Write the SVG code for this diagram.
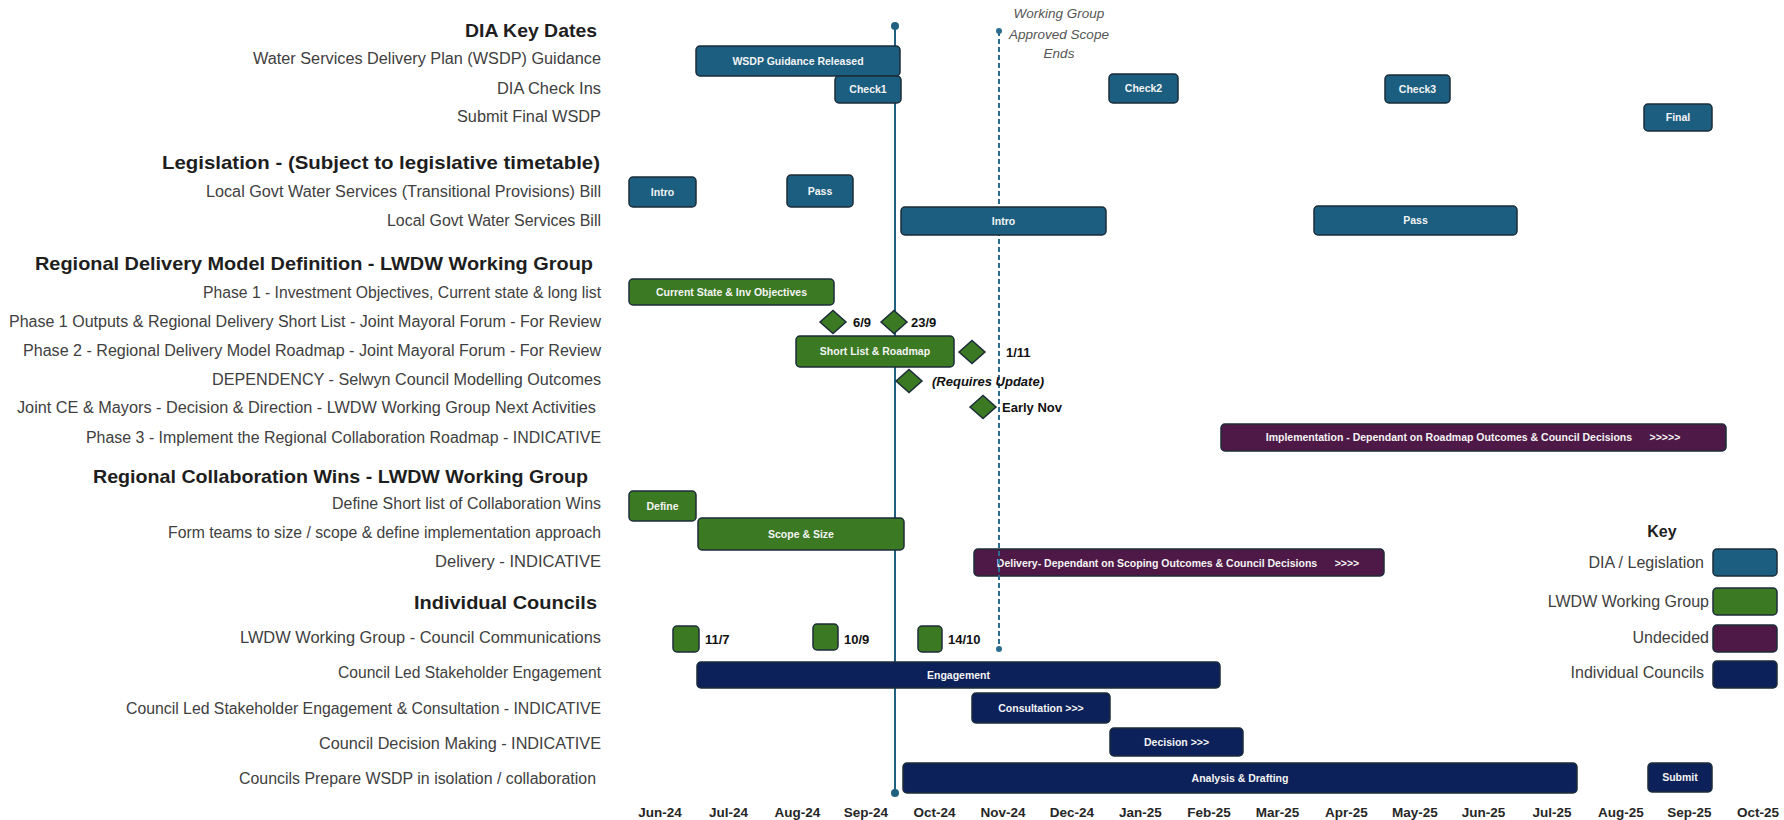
<svg xmlns="http://www.w3.org/2000/svg" width="1784" height="820" viewBox="0 0 1784 820">
<style>
text{font-family:"Liberation Sans",Arial,sans-serif}
.hdr{font-size:19px;font-weight:bold;fill:#1e1e1e;text-anchor:end}
.lbl{font-size:16px;fill:#404040;text-anchor:end}
.mon{font-size:13.5px;font-weight:bold;fill:#262626;text-anchor:middle}
.bt{font-size:10.5px;font-weight:bold;fill:#f4f4f4;text-anchor:middle}
.pre{white-space:pre}
.ms{font-size:13px;font-weight:bold;fill:#111111}
.note{font-size:13.5px;font-style:italic;fill:#555555;text-anchor:middle}
.dia{fill:#1b5e80;stroke:#1c2c38;stroke-width:1.5}
.grn{fill:#3b7a23;stroke:#1c2c38;stroke-width:1.5}
.pur{fill:#4f1947;stroke:#1c2c38;stroke-width:1.5}
.nav{fill:#0c2159;stroke:#1c2c38;stroke-width:1.5}
.key{font-size:16px;fill:#404040;text-anchor:end}
</style>

<g id="row-labels">
<text class="hdr" x="597" y="37" textLength="132" lengthAdjust="spacingAndGlyphs">DIA Key Dates</text>
<text class="lbl" x="601" y="64" textLength="348" lengthAdjust="spacingAndGlyphs">Water Services Delivery Plan (WSDP) Guidance</text>
<text class="lbl" x="601" y="94" textLength="104" lengthAdjust="spacingAndGlyphs">DIA Check Ins</text>
<text class="lbl" x="601" y="122" textLength="144" lengthAdjust="spacingAndGlyphs">Submit Final WSDP</text>
<text class="hdr" x="600" y="169" textLength="438" lengthAdjust="spacingAndGlyphs">Legislation - (Subject to legislative timetable)</text>
<text class="lbl" x="601" y="197" textLength="395" lengthAdjust="spacingAndGlyphs">Local Govt Water Services (Transitional Provisions) Bill</text>
<text class="lbl" x="601" y="226" textLength="214" lengthAdjust="spacingAndGlyphs">Local Govt Water Services Bill</text>
<text class="hdr" x="593" y="270" textLength="558" lengthAdjust="spacingAndGlyphs">Regional Delivery Model Definition - LWDW Working Group</text>
<text class="lbl" x="601" y="298" textLength="398" lengthAdjust="spacingAndGlyphs">Phase 1 - Investment Objectives, Current state &amp; long list</text>
<text class="lbl" x="601" y="327" textLength="592" lengthAdjust="spacingAndGlyphs">Phase 1 Outputs &amp; Regional Delivery Short List - Joint Mayoral Forum - For Review</text>
<text class="lbl" x="601" y="356" textLength="578" lengthAdjust="spacingAndGlyphs">Phase 2 - Regional Delivery Model Roadmap - Joint Mayoral Forum - For Review</text>
<text class="lbl" x="601" y="385" textLength="389" lengthAdjust="spacingAndGlyphs">DEPENDENCY - Selwyn Council Modelling Outcomes</text>
<text class="lbl" x="596" y="413" textLength="579" lengthAdjust="spacingAndGlyphs">Joint CE &amp; Mayors - Decision &amp; Direction - LWDW Working Group Next Activities</text>
<text class="lbl" x="601" y="443" textLength="515" lengthAdjust="spacingAndGlyphs">Phase 3 - Implement the Regional Collaboration Roadmap - INDICATIVE</text>
<text class="hdr" x="588" y="483" textLength="495" lengthAdjust="spacingAndGlyphs">Regional Collaboration Wins - LWDW Working Group</text>
<text class="lbl" x="601" y="509" textLength="269" lengthAdjust="spacingAndGlyphs">Define Short list of Collaboration Wins</text>
<text class="lbl" x="601" y="538" textLength="433" lengthAdjust="spacingAndGlyphs">Form teams to size / scope &amp; define implementation approach</text>
<text class="lbl" x="601" y="567" textLength="166" lengthAdjust="spacingAndGlyphs">Delivery - INDICATIVE</text>
<text class="hdr" x="597" y="609" textLength="183" lengthAdjust="spacingAndGlyphs">Individual Councils</text>
<text class="lbl" x="601" y="643" textLength="361" lengthAdjust="spacingAndGlyphs">LWDW Working Group - Council Communications</text>
<text class="lbl" x="601" y="678" textLength="263" lengthAdjust="spacingAndGlyphs">Council Led Stakeholder Engagement</text>
<text class="lbl" x="601" y="714" textLength="475" lengthAdjust="spacingAndGlyphs">Council Led Stakeholder Engagement &amp; Consultation - INDICATIVE</text>
<text class="lbl" x="601" y="749" textLength="282" lengthAdjust="spacingAndGlyphs">Council Decision Making - INDICATIVE</text>
<text class="lbl" x="596" y="784" textLength="357" lengthAdjust="spacingAndGlyphs">Councils Prepare WSDP in isolation / collaboration</text>
</g>

<g id="months">
<text class="mon" x="660" y="817">Jun-24</text>
<text class="mon" x="728.6" y="817">Jul-24</text>
<text class="mon" x="797.3" y="817">Aug-24</text>
<text class="mon" x="865.9" y="817">Sep-24</text>
<text class="mon" x="934.5" y="817">Oct-24</text>
<text class="mon" x="1003.1" y="817">Nov-24</text>
<text class="mon" x="1071.8" y="817">Dec-24</text>
<text class="mon" x="1140.4" y="817">Jan-25</text>
<text class="mon" x="1209" y="817">Feb-25</text>
<text class="mon" x="1277.6" y="817">Mar-25</text>
<text class="mon" x="1346.3" y="817">Apr-25</text>
<text class="mon" x="1414.9" y="817">May-25</text>
<text class="mon" x="1483.5" y="817">Jun-25</text>
<text class="mon" x="1552.1" y="817">Jul-25</text>
<text class="mon" x="1620.8" y="817">Aug-25</text>
<text class="mon" x="1689.4" y="817">Sep-25</text>
<text class="mon" x="1758" y="817">Oct-25</text>
</g>

<g id="delivery">
<rect class="pur" x="974" y="549" width="410" height="27" rx="4"/>
<text class="bt pre" x="1178" y="566.5">Delivery- Dependant on Scoping Outcomes &amp; Council Decisions      &gt;&gt;&gt;&gt;</text>
</g>

<g id="connectors">
<line x1="895" y1="26" x2="895" y2="793" stroke="#1f5f80" stroke-width="2"/>
<circle cx="895" cy="26" r="4" fill="#1f5f80"/>
<circle cx="895" cy="793" r="4" fill="#1f5f80"/>
<line x1="999" y1="31" x2="999" y2="649" stroke="#2a6d90" stroke-width="2" stroke-dasharray="5 3"/>
<circle cx="999" cy="31" r="3" fill="#2a6d90"/>
<circle cx="999" cy="649" r="3" fill="#2a6d90"/>
</g>

<g id="scope-note">
<text class="note" x="1059" y="18">Working Group</text>
<text class="note" x="1059" y="38.5">Approved Scope</text>
<text class="note" x="1059" y="58">Ends</text>
</g>

<g id="wsdp-guidance"><rect class="dia" x="696" y="46" width="204" height="30" rx="4"/><text class="bt" x="798" y="64.7">WSDP Guidance Released</text></g>
<g id="check1"><rect class="dia" x="835" y="76" width="66" height="27" rx="4"/><text class="bt" x="868" y="93.2">Check1</text></g>
<g id="check2"><rect class="dia" x="1109" y="74" width="69" height="29" rx="4"/><text class="bt" x="1143.5" y="92.2">Check2</text></g>
<g id="check3"><rect class="dia" x="1385" y="75" width="65" height="28" rx="4"/><text class="bt" x="1417.5" y="92.7">Check3</text></g>
<g id="final"><rect class="dia" x="1644" y="104" width="68" height="27" rx="4"/><text class="bt" x="1678" y="121.2">Final</text></g>
<g id="tp-intro"><rect class="dia" x="629" y="177" width="67" height="30" rx="4"/><text class="bt" x="662.5" y="195.7">Intro</text></g>
<g id="tp-pass"><rect class="dia" x="787" y="175" width="66" height="32" rx="4"/><text class="bt" x="820" y="194.7">Pass</text></g>
<g id="ws-intro"><rect class="dia" x="901" y="207" width="205" height="28" rx="4"/><text class="bt" x="1003.5" y="224.7">Intro</text></g>
<g id="ws-pass"><rect class="dia" x="1314" y="206" width="203" height="29" rx="4"/><text class="bt" x="1415.5" y="224.2">Pass</text></g>

<g id="current-state"><rect class="grn" x="629" y="279" width="205" height="26" rx="4"/><text class="bt" x="731.5" y="295.7">Current State &amp; Inv Objectives</text></g>
<g id="ms-6-9"><polygon class="grn" points="820,322 833,310.5 846,322 833,333.5"/><text class="ms" x="853" y="326.5">6/9</text></g>
<g id="ms-23-9"><polygon class="grn" points="881,322 894,310.5 907,322 894,333.5"/><text class="ms" x="911" y="326.5">23/9</text></g>
<g id="short-list"><rect class="grn" x="796" y="336" width="158" height="31" rx="4"/><text class="bt" x="875" y="355.2">Short List &amp; Roadmap</text></g>
<g id="ms-1-11"><polygon class="grn" points="959,352 972,340.5 985,352 972,363.5"/><text class="ms" x="1006" y="356.5">1/11</text></g>
<g id="ms-requires"><polygon class="grn" points="896,381 909,369.5 922,381 909,392.5"/><text class="ms" x="932" y="385.5" font-style="italic">(Requires Update)</text></g>
<g id="ms-early-nov"><polygon class="grn" points="970,407 983,395.5 996,407 983,418.5"/><text class="ms" x="1002" y="411.5">Early Nov</text></g>
<g id="implementation"><rect class="pur" x="1221" y="424" width="505" height="27" rx="4"/><text class="bt pre" x="1473" y="441.2">Implementation - Dependant on Roadmap Outcomes &amp; Council Decisions      &gt;&gt;&gt;&gt;&gt;</text></g>
<g id="define"><rect class="grn" x="629" y="491" width="67" height="30" rx="4"/><text class="bt" x="662.5" y="509.7">Define</text></g>
<g id="scope-size"><rect class="grn" x="698" y="518" width="206" height="32" rx="4"/><text class="bt" x="801" y="537.7">Scope &amp; Size</text></g>

<g id="comm-11-7"><rect class="grn" x="673" y="626" width="26" height="26" rx="4"/><text class="ms" x="705" y="643.5">11/7</text></g>
<g id="comm-10-9"><rect class="grn" x="813" y="624" width="25" height="26" rx="4"/><text class="ms" x="844" y="643.5">10/9</text></g>
<g id="comm-14-10"><rect class="grn" x="918" y="626" width="24" height="26" rx="4"/><text class="ms" x="948" y="643.5">14/10</text></g>
<g id="engagement"><rect class="nav" x="697" y="662" width="523" height="26" rx="4"/><text class="bt" x="958.5" y="678.7">Engagement</text></g>
<g id="consultation"><rect class="nav" x="972" y="693" width="138" height="30" rx="4"/><text class="bt" x="1041" y="711.7">Consultation &gt;&gt;&gt;</text></g>
<g id="decision"><rect class="nav" x="1110" y="728" width="133" height="28" rx="4"/><text class="bt" x="1176.5" y="745.7">Decision &gt;&gt;&gt;</text></g>
<g id="analysis"><rect class="nav" x="903" y="763" width="674" height="30" rx="4"/><text class="bt" x="1240" y="781.7">Analysis &amp; Drafting</text></g>
<g id="submit"><rect class="nav" x="1648" y="763" width="64" height="29" rx="4"/><text class="bt" x="1680" y="781.2">Submit</text></g>

<g id="legend">
<text x="1662" y="537" font-size="16" font-weight="bold" fill="#1e1e1e" text-anchor="middle">Key</text>
<text class="key" x="1704" y="568">DIA / Legislation</text>
<rect class="dia" x="1713" y="549" width="64" height="27" rx="4"/>
<text class="key" x="1709" y="607">LWDW Working Group</text>
<rect class="grn" x="1713" y="588" width="64" height="27" rx="4"/>
<text class="key" x="1709" y="643">Undecided</text>
<rect class="pur" x="1713" y="625" width="64" height="27" rx="4"/>
<text class="key" x="1704" y="678">Individual Councils</text>
<rect class="nav" x="1713" y="661" width="64" height="27" rx="4"/>
</g>
</svg>
